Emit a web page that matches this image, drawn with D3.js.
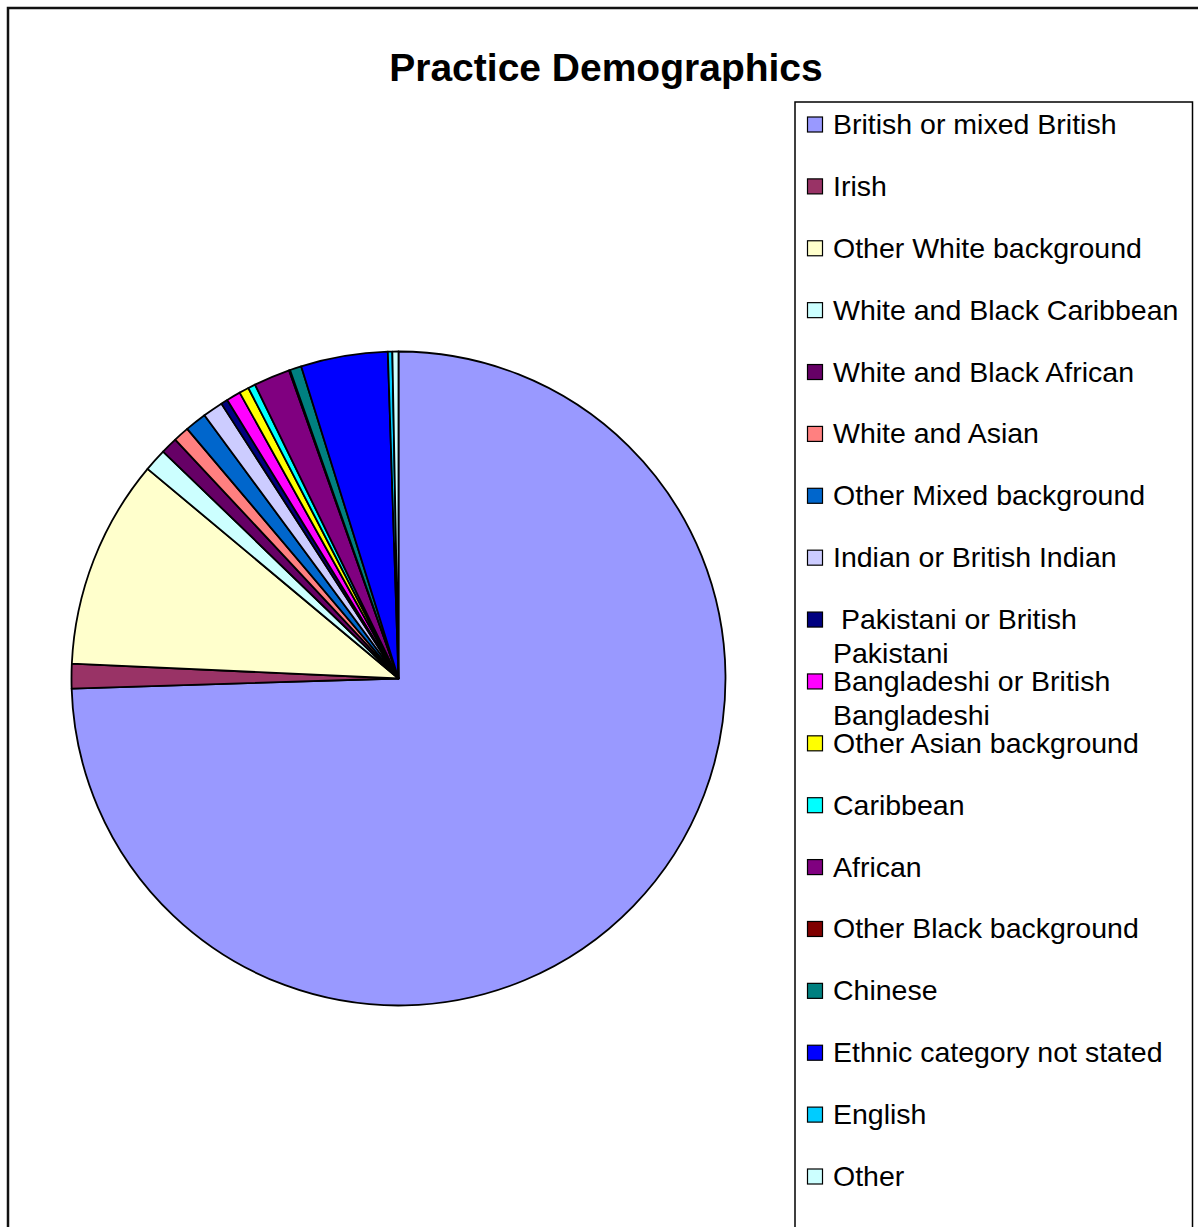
<!DOCTYPE html>
<html>
<head>
<meta charset="utf-8">
<script src="https://cdn.jsdelivr.net/npm/d3@7"></script>
<style>
  html, body { margin: 0; padding: 0; background: #fff; }
  svg { display: block; font-family: Arial, "Liberation Sans", sans-serif; }
</style>
</head>
<body>
<svg id="chart" width="1198" height="1227"></svg>
<script>
// Ethnicity categories, in legend / slice order
const categories = [
  "British or mixed British",
  "Irish",
  "Other White background",
  "White and Black Caribbean",
  "White and Black African",
  "White and Asian",
  "Other Mixed background",
  "Indian or British Indian",
  " Pakistani or British Pakistani",
  "Bangladeshi or British Bangladeshi",
  "Other Asian background",
  "Caribbean",
  "African",
  "Other Black background",
  "Chinese",
  "Ethnic category not stated",
  "English",
  "Other"
];

// Share of registered patients (%)
const shares = [
  74.5, 1.22, 10.35, 1.13, 0.83, 0.78, 1.07, 1.0, 0.34,
  0.70, 0.48, 0.36, 1.8, 0.05, 0.57, 4.29, 0.22, 0.3
];

// Legend text, split into display lines
const legendLines = [
  ["British or mixed British"],
  ["Irish"],
  ["Other White background"],
  ["White and Black Caribbean"],
  ["White and Black African"],
  ["White and Asian"],
  ["Other Mixed background"],
  ["Indian or British Indian"],
  ["\u00a0Pakistani or British", "Pakistani"],
  ["Bangladeshi or British", "Bangladeshi"],
  ["Other Asian background"],
  ["Caribbean"],
  ["African"],
  ["Other Black background"],
  ["Chinese"],
  ["Ethnic category not stated"],
  ["English"],
  ["Other"]
];

const palette = [
  "#9999FF", "#993366", "#FFFFCC", "#CCFFFF", "#660066", "#FF8080",
  "#0066CC", "#CCCCFF", "#000080", "#FF00FF", "#FFFF00", "#00FFFF",
  "#800080", "#800000", "#008080", "#0000FF", "#00CCFF", "#CCFFFF"
];

const title = "Practice Demographics";

const svg = d3.select("#chart");

// Outer chart frame
svg.append("rect")
  .attr("x", 8).attr("y", 8)
  .attr("width", 1200).attr("height", 1240)
  .attr("fill", "#fff")
  .attr("stroke", "#111")
  .attr("stroke-width", 2.5);

// Title
svg.append("text")
  .attr("x", 606).attr("y", 81)
  .attr("text-anchor", "middle")
  .attr("font-size", 39)
  .attr("font-weight", "bold")
  .attr("fill", "#000")
  .text(title);

// Pie
const cx = 398.5, cy = 678.5, radius = 327;
const data = categories.map((c, i) => ({ name: c, value: shares[i], color: palette[i] }));

const pie = d3.pie()
  .value(d => d.value)
  .sort(null)
  .startAngle(0)
  .endAngle(2 * Math.PI);

const arc = d3.arc().innerRadius(0).outerRadius(radius);

svg.append("g")
  .attr("transform", `translate(${cx},${cy})`)
  .selectAll("path")
  .data(pie(data))
  .join("path")
  .attr("d", arc)
  .attr("fill", d => d.data.color)
  .attr("stroke", "#000")
  .attr("stroke-width", 1.8)
  .attr("stroke-linejoin", "round");

// Legend box
svg.append("rect")
  .attr("x", 795).attr("y", 102)
  .attr("width", 397.5).attr("height", 1200)
  .attr("fill", "#fff")
  .attr("stroke", "#000")
  .attr("stroke-width", 1.5);

const rowY = d3.scaleLinear()
  .domain([0, categories.length - 1])
  .range([124.5, 1176.5]);

const legend = svg.append("g")
  .selectAll("g")
  .data(data)
  .join("g")
  .attr("transform", (d, i) => `translate(0,${rowY(i)})`);

legend.append("rect")
  .attr("x", 807.5).attr("y", -7.5)
  .attr("width", 15).attr("height", 15)
  .attr("fill", d => d.color)
  .attr("stroke", "#000")
  .attr("stroke-width", 1.2);

legend.append("text")
  .attr("x", 833)
  .attr("y", 9.5)
  .attr("font-size", 28.5)
  .attr("fill", "#000")
  .selectAll("tspan")
  .data((d, i) => legendLines[i])
  .join("tspan")
  .attr("x", 833)
  .attr("dy", (t, j) => j === 0 ? 0 : 34)
  .text(t => t);
</script>
</body>
</html>
